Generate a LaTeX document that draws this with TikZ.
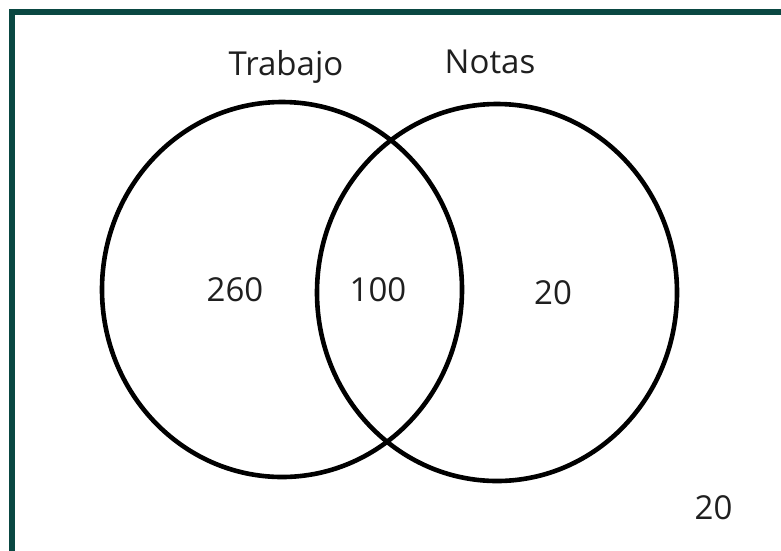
\documentclass[tikz,border=0pt]{standalone}
\usepackage{fontspec}
\setmainfont{Open Sans}
\definecolor{frame}{RGB}{10,72,66}
\begin{document}
\begin{tikzpicture}[x=1pt,y=-1pt,
  setline/.style={line width=4.6pt,draw=black},
  lbl/.style={anchor=base,inner sep=0pt,font=\fontsize{33}{40}\selectfont,text=black!88}]
\useasboundingbox (0,0) rectangle (781,550);
\fill[white] (0,0) rectangle (781,550);
\draw[frame,line width=6pt] (12,600) -- (12,12) -- (830,12);
\coordinate (cT) at (282,289.5);
\coordinate (cN) at (497,292.5);
\draw[setline] (cT) ellipse [x radius=180, y radius=187.5];
\draw[setline] (cN) ellipse [x radius=180, y radius=188.5];
\node[lbl] (trabajo) at (286,75) {Trabajo};
\node[lbl] (notas) at (490,73) {Notas};
\node[lbl] (n260) at (235,301.5) {260};
\node[lbl] (n100) at (378,301.5) {100};
\node[lbl] (n20a) at (553,304) {20};
\node[lbl] (n20b) at (713.5,519) {20};
\end{tikzpicture}
\end{document}
